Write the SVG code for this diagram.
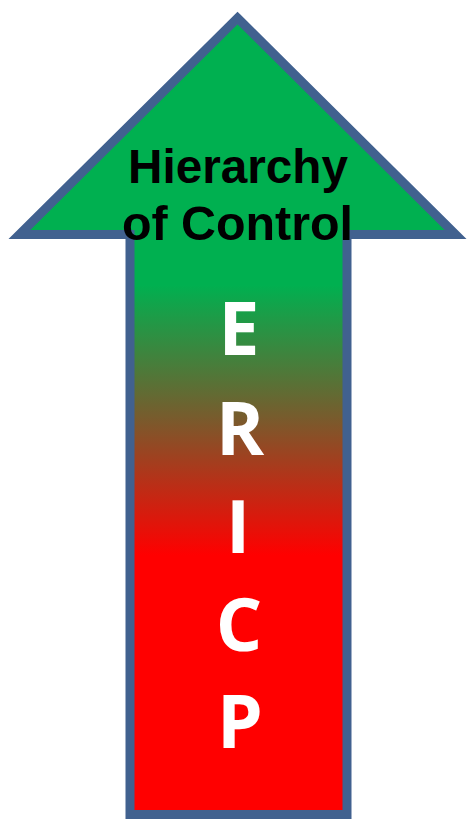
<svg xmlns="http://www.w3.org/2000/svg" width="467" height="819" viewBox="0 0 467 819">
<defs>
<linearGradient id="grad" gradientUnits="userSpaceOnUse" x1="0" y1="285" x2="0" y2="555">
<stop offset="0" stop-color="#00B050"/>
<stop offset="0.5" stop-color="#7A5A2C"/>
<stop offset="1" stop-color="#FF0000"/>
</linearGradient>
<style>
.arrow{fill:url(#grad);stroke:#41618F;stroke-width:9;stroke-linejoin:miter}
.title{font-family:"Liberation Sans",Arial,sans-serif;font-weight:bold;font-size:48px;fill:#000;text-anchor:middle}
.letter{font-family:"Open Sans","Liberation Sans",sans-serif;font-weight:bold;font-size:73px;fill:#fff;text-anchor:middle}
</style>
</defs>
<rect width="467" height="819" fill="#fff"/>
<g id="arrow">
<path class="arrow" d="M237.5,18 L455.6,234.5 L347,234.5 L347,814.5 L130,814.5 L130,234.5 L19.4,234.5 Z"/>
</g>
<g id="title">
<text class="title" x="238" y="183" textLength="220" lengthAdjust="spacingAndGlyphs">Hierarchy</text>
<text class="title" x="237.5" y="240" textLength="231" lengthAdjust="spacingAndGlyphs">of Control</text>
</g>
<g id="letters">
<text class="letter" x="239" y="355">E</text>
<text class="letter" x="240" y="455">R</text>
<text class="letter" x="238" y="553">I</text>
<text class="letter" x="239" y="651">C</text>
<text class="letter" x="240" y="748">P</text>
</g>
</svg>
